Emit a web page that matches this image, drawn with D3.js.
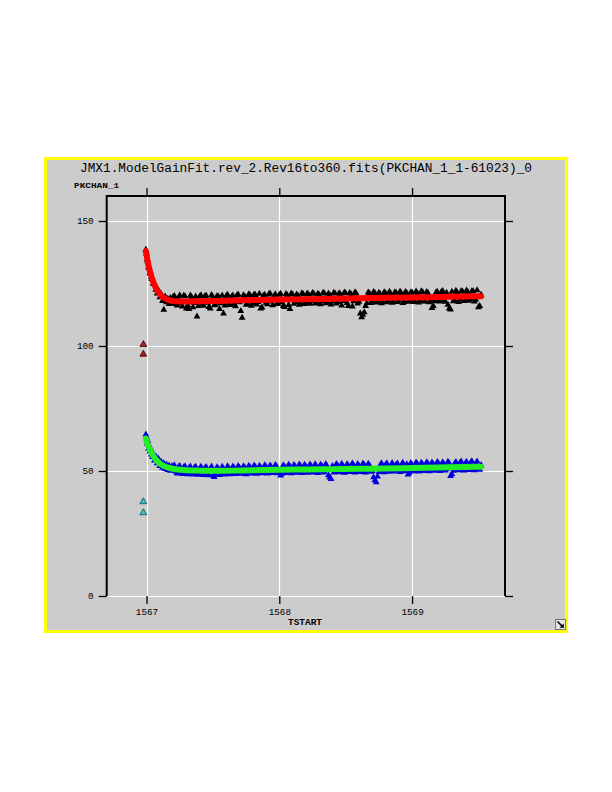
<!DOCTYPE html>
<html>
<head>
<meta charset="utf-8">
<script src="https://cdn.jsdelivr.net/npm/d3@7"></script>
<style>
  html, body { margin: 0; padding: 0; background: #ffffff; }
  svg { display: block; }
</style>
</head>
<body>
<svg id="chart" width="612" height="792"></svg>
<script>
// ---------------- DATA ----------------
const chartTitle = "JMX1.ModelGainFit.rev_2.Rev16to360.fits(PKCHAN_1_1-61023)_0";
const yLabel = "PKCHAN_1";
const xLabel = "TSTART";
const xTicks = [1567, 1568, 1569];
const yTicks = [0, 50, 100, 150];

// TSTART of measurements (set A)
const tstart = [
  1566.995, 1567.000, 1567.005, 1567.010, 1567.015, 1567.020, 1567.025, 1567.030, 1567.035, 1567.040,
  1567.045, 1567.050, 1567.060, 1567.070, 1567.080, 1567.090, 1567.100, 1567.110, 1567.120, 1567.130,
  1567.140, 1567.150, 1567.160, 1567.170, 1567.180, 1567.190,
  1567.20, 1567.22, 1567.24, 1567.26, 1567.28, 1567.30, 1567.32, 1567.34, 1567.36, 1567.38,
  1567.40, 1567.42, 1567.44, 1567.46, 1567.48, 1567.50, 1567.52, 1567.54, 1567.56, 1567.58,
  1567.60, 1567.62, 1567.64, 1567.66, 1567.68, 1567.70, 1567.72, 1567.74, 1567.76, 1567.78,
  1567.80, 1567.82, 1567.84, 1567.86, 1567.88, 1567.90, 1567.92, 1567.94, 1567.96, 1567.98,
  1568.00, 1568.02, 1568.04, 1568.06, 1568.08, 1568.10, 1568.12, 1568.14, 1568.16, 1568.18,
  1568.20, 1568.22, 1568.24, 1568.26, 1568.28, 1568.30, 1568.32, 1568.34, 1568.36, 1568.38,
  1568.40, 1568.42, 1568.44, 1568.46, 1568.48, 1568.50, 1568.52, 1568.54, 1568.56, 1568.58,
  1568.60, 1568.62, 1568.64, 1568.66, 1568.68, 1568.70, 1568.72, 1568.74, 1568.76, 1568.78,
  1568.80, 1568.82, 1568.84, 1568.86, 1568.88, 1568.90, 1568.92, 1568.94, 1568.96, 1568.98,
  1569.00, 1569.02, 1569.04, 1569.06, 1569.08, 1569.10, 1569.12, 1569.14, 1569.16, 1569.18,
  1569.20, 1569.22, 1569.24, 1569.26, 1569.28, 1569.30, 1569.32, 1569.34, 1569.36, 1569.38,
  1569.40, 1569.42, 1569.44, 1569.46, 1569.48, 1569.50, 1569.52
];

// upper channel measurements, set A (black triangles)
const pkchanHigh = [
  138.5, 137.0, 134.5, 133.8, 131.5, 131.2, 129.0, 129.5, 127.5, 126.8,
  126.9, 125.0, 124.8, 122.5, 121.0, 122.3, 119.5, 120.8, 118.0, 114.5,
  119.8, 117.5, 118.9, 116.8, 119.2, 117.0,
  119.6, 116.8, 119.2, 117.0, 120.1, 115.0, 114.8, 119.5, 117.2, 111.8,
  119.8, 116.9, 120.0, 117.3, 115.0, 119.6, 116.5, 119.9, 117.1, 113.0,
  120.0, 117.0, 119.7, 116.8, 120.2, 117.5, 111.3, 119.8, 116.9, 120.3,
  117.2, 120.4, 117.6, 115.0, 120.1, 117.3, 120.6, 117.8, 119.9, 116.9,
  120.5, 117.5, 115.6, 120.3, 114.8, 120.6, 117.6, 120.2, 117.2, 120.7,
  117.6, 120.6, 117.9, 120.9, 117.4, 120.5, 117.9, 121.0, 117.5, 120.4,
  117.8, 121.0, 117.6, 120.7, 118.0, 121.1, 116.0, 120.8, 117.9, 121.0,
  117.7, 111.5, 113.5, 117.2, 121.0, 117.9, 121.2, 118.0, 120.8, 117.6,
  121.1, 118.1, 120.9, 117.8, 121.3, 118.2, 121.0, 117.7, 121.2, 118.3,
  121.4, 118.0, 121.1, 118.4, 121.5, 117.9, 121.2, 118.3, 116.0, 121.4,
  118.2, 121.6, 118.5, 121.3, 115.0, 121.7, 118.4, 121.4, 118.6, 121.8,
  118.5, 121.6, 118.8, 121.9, 118.6, 115.5, 120.5
];

// lower channel measurements, set A (blue triangles)
const pkchanLow = [
  64.6, 63.5, 61.0, 62.0, 59.0, 60.2, 57.8, 58.9, 56.6, 57.9,
  55.6, 57.0, 54.2, 55.8, 53.1, 54.9, 52.0, 53.7, 51.3, 53.1,
  50.8, 52.6, 50.4, 52.2, 50.1, 51.9,
  51.9, 49.8, 51.6, 49.6, 51.5, 49.3, 51.2, 49.2, 51.3, 49.0,
  51.0, 48.9, 51.2, 49.0, 50.9, 48.2, 48.5, 51.0, 49.1, 50.8,
  49.0, 51.1, 49.2, 51.2, 49.1, 51.3, 49.4, 51.4, 49.3, 51.5,
  49.5, 51.6, 49.4, 51.4, 49.6, 51.7, 49.5, 51.6, 49.7, 51.8,
  49.6, 48.9, 51.7, 49.8, 51.9, 49.7, 51.8, 49.6, 52.0, 49.8,
  51.9, 49.9, 52.0, 49.7, 51.8, 50.0, 52.1, 49.8, 51.9, 47.4,
  52.0, 49.9, 52.2, 50.0, 51.9, 49.8, 52.1, 50.1, 52.3, 50.0,
  52.1, 49.9, 52.4, 50.2, 52.2, 50.0, 46.3, 47.8, 52.3, 50.1,
  52.5, 50.3, 52.2, 50.1, 52.6, 50.4, 52.4, 50.2, 52.7, 49.3,
  52.5, 50.4, 52.8, 50.3, 52.6, 50.5, 52.9, 50.4, 52.7, 50.6,
  53.0, 50.5, 52.8, 50.7, 53.1, 48.7, 52.9, 50.6, 53.2, 50.8,
  53.0, 50.7, 53.3, 50.9, 53.1, 50.8, 52.4
];

// TSTART of measurements (set B, interleaved)
const tstartB = [
  1567.21, 1567.23, 1567.25, 1567.27, 1567.29, 1567.31, 1567.33, 1567.35, 1567.37, 1567.39,
  1567.41, 1567.43, 1567.45, 1567.47, 1567.49, 1567.51, 1567.53, 1567.55, 1567.57, 1567.59,
  1567.61, 1567.63, 1567.65, 1567.67, 1567.69, 1567.71, 1567.73, 1567.75, 1567.77, 1567.79,
  1567.81, 1567.83, 1567.85, 1567.87, 1567.89, 1567.91, 1567.93, 1567.95, 1567.97, 1567.99,
  1568.01, 1568.03, 1568.05, 1568.07, 1568.09, 1568.11, 1568.13, 1568.15, 1568.17, 1568.19,
  1568.21, 1568.23, 1568.25, 1568.27, 1568.29, 1568.31, 1568.33, 1568.35, 1568.37, 1568.39,
  1568.41, 1568.43, 1568.45, 1568.47, 1568.49, 1568.51, 1568.53, 1568.55, 1568.57, 1568.59,
  1568.61, 1568.63, 1568.65, 1568.67, 1568.69, 1568.71, 1568.73, 1568.75, 1568.77, 1568.79,
  1568.81, 1568.83, 1568.85, 1568.87, 1568.89, 1568.91, 1568.93, 1568.95, 1568.97, 1568.99,
  1569.01, 1569.03, 1569.05, 1569.07, 1569.09, 1569.11, 1569.13, 1569.15, 1569.17, 1569.19,
  1569.21, 1569.23, 1569.25, 1569.27, 1569.29, 1569.31, 1569.33, 1569.35, 1569.37, 1569.39,
  1569.41, 1569.43, 1569.45, 1569.47, 1569.49, 1569.51
];

const pkchanHighB = [
  120.0, 116.2, 120.3, 115.8, 119.9, 116.4, 120.2, 115.5, 119.8, 116.0,
  120.3, 116.1, 120.1, 115.6, 120.4, 116.3, 119.9, 114.8, 120.2, 116.2,
  120.5, 116.4, 120.2, 115.9, 120.6, 114.0, 120.3, 116.5, 120.7, 116.1,
  120.6, 116.6, 120.9, 115.4, 120.5, 116.7, 121.0, 116.3, 120.7, 116.8,
  120.9, 116.0, 120.8, 116.4, 121.0, 116.9, 120.6, 116.5, 121.1, 116.8,
  121.0, 116.9, 121.2, 117.0, 120.9, 116.7, 121.3, 117.1, 121.0, 116.6,
  121.3, 117.0, 121.1, 116.2, 121.4, 117.2, 121.2, 115.8, 121.5, 117.0,
  113.0, 112.5, 116.0, 121.4, 117.2, 121.6, 117.4, 121.3, 117.1, 121.5,
  117.5, 121.7, 117.3, 121.5, 117.6, 121.8, 117.2, 121.6, 117.7, 121.4,
  117.6, 121.8, 117.4, 121.9, 117.8, 121.6, 117.5, 115.2, 117.9, 121.7,
  117.8, 122.0, 117.7, 116.5, 114.6, 117.9, 122.1, 117.6, 121.9, 118.0,
  122.2, 118.1, 121.9, 117.8, 122.3, 116.0
];

const pkchanLowB = [
  52.3, 49.0, 52.0, 48.8, 51.9, 48.7, 51.8, 48.6, 51.7, 48.5,
  51.7, 48.4, 51.6, 48.3, 51.8, 47.6, 51.5, 48.4, 51.7, 48.6,
  51.9, 48.7, 51.8, 48.8, 52.0, 48.9, 51.9, 48.7, 52.1, 49.0,
  52.2, 48.9, 52.1, 49.1, 52.3, 49.0, 52.2, 49.2, 52.4, 49.1,
  48.2, 52.3, 49.2, 52.5, 49.1, 52.4, 49.3, 52.6, 49.2, 52.5,
  49.3, 52.6, 49.4, 52.7, 49.2, 52.5, 49.4, 52.8, 48.3, 46.8,
  49.4, 52.8, 49.5, 52.9, 49.3, 52.7, 49.6, 53.0, 49.4, 52.8,
  49.6, 53.0, 49.4, 52.9, 49.7, 47.5, 45.5, 49.6, 53.1, 49.5,
  53.1, 49.7, 53.2, 49.8, 53.0, 49.6, 53.3, 49.9, 48.6, 53.2,
  49.9, 53.4, 49.8, 53.3, 50.0, 53.5, 49.9, 53.4, 50.1, 53.6,
  50.0, 53.5, 50.2, 53.7, 48.0, 50.1, 53.6, 50.3, 53.8, 50.2,
  53.7, 50.4, 53.9, 50.3, 53.8, 50.5
];

// model gain fits
const fitTime = [
  1566.995, 1567.000, 1567.010, 1567.020, 1567.030, 1567.040, 1567.050, 1567.060, 1567.070, 1567.080,
  1567.090, 1567.100, 1567.120, 1567.140, 1567.160, 1567.180, 1567.220, 1567.300, 1567.400, 1567.500,
  1567.650, 1567.800, 1568.000, 1568.200, 1568.400, 1568.600, 1568.800, 1569.000, 1569.200, 1569.400, 1569.520
];
const fitHigh = [
  138.0, 136.5, 133.5, 131.0, 129.0, 127.2, 125.7, 124.4, 123.3, 122.3,
  121.5, 120.8, 119.7, 119.0, 118.5, 118.2, 117.9, 117.8, 117.9, 118.0,
  118.2, 118.4, 118.6, 118.7, 118.9, 119.1, 119.3, 119.4, 119.6, 119.8, 119.9
];
const fitLow = [
  63.0, 62.0, 60.5, 59.2, 58.0, 57.0, 56.1, 55.3, 54.6, 54.0,
  53.5, 53.0, 52.3, 51.8, 51.4, 51.1, 50.7, 50.3, 50.15, 50.1,
  50.15, 50.3, 50.5, 50.6, 50.75, 50.9, 51.0, 51.2, 51.4, 51.6, 51.7
];

// early outliers
const outlierTime = [1566.976, 1566.976];
const outlierHigh = [100.6, 96.7];
const outlierLow = [37.7, 33.3];

// ---------------- DRAW ----------------
const svg = d3.select("#chart");

// panel
svg.append("rect")
  .attr("x", 45.5).attr("y", 158.5).attr("width", 521).attr("height", 473)
  .attr("fill", "#cccccc").attr("stroke", "#ffff00").attr("stroke-width", 3);

const plot = { left: 106.7, right: 505, top: 196, bottom: 596 };
const x = d3.scaleLinear().domain([1566.70, 1569.70]).range([plot.left, plot.right]);
const y = d3.scaleLinear().domain([0, 160]).range([plot.bottom, plot.top]);

// grid
const grid = svg.append("g");
grid.selectAll("line.gx").data(xTicks).join("line")
  .attr("x1", d => Math.round(x(d)) + 0.5).attr("x2", d => Math.round(x(d)) + 0.5)
  .attr("y1", plot.top).attr("y2", plot.bottom)
  .attr("stroke", "#ffffff").attr("stroke-width", 1.2);
grid.selectAll("line.gy").data(yTicks).join("line")
  .attr("x1", plot.left).attr("x2", plot.right)
  .attr("y1", d => Math.round(y(d)) + 0.5).attr("y2", d => Math.round(y(d)) + 0.5)
  .attr("stroke", "#ffffff").attr("stroke-width", 1.2);

// axes (ticks + labels)
const tickFont = "'Liberation Mono', 'DejaVu Sans Mono', monospace";
function styleAxis(g) {
  g.select(".domain").remove();
  g.selectAll(".tick line").attr("stroke", "#000").attr("stroke-width", 1.3);
  g.selectAll(".tick text").attr("fill", "#000").style("font-family", tickFont).style("font-size", "9.3px");
}
svg.append("g").attr("transform", `translate(${plot.left},0)`)
  .call(d3.axisLeft(y).tickValues(yTicks).tickSize(8).tickPadding(5).tickFormat(d3.format("d")))
  .call(styleAxis);
svg.append("g").attr("transform", `translate(${plot.right},0)`)
  .call(d3.axisRight(y).tickValues(yTicks).tickSize(8).tickFormat(""))
  .call(styleAxis);
svg.append("g").attr("transform", `translate(0,${plot.bottom})`)
  .call(d3.axisBottom(x).tickValues(xTicks).tickSize(8).tickPadding(4).tickFormat(d3.format("d")))
  .call(styleAxis);
svg.append("g").attr("transform", `translate(0,${plot.top})`)
  .call(d3.axisTop(x).tickValues(xTicks).tickSize(8).tickFormat(""))
  .call(styleAxis);

// frame (left, top, right)
svg.append("path")
  .attr("d", `M${plot.left},${plot.bottom}V${plot.top}H${plot.right}V${plot.bottom}`)
  .attr("fill", "none").attr("stroke", "#000").attr("stroke-width", 2);

// data
const tri = d3.symbol().type(d3.symbolTriangle).size(20);
const high = tstart.map((t, i) => ({ t, v: pkchanHigh[i] }))
  .concat(tstartB.map((t, i) => ({ t, v: pkchanHighB[i] })));
const low = tstart.map((t, i) => ({ t, v: pkchanLow[i] }))
  .concat(tstartB.map((t, i) => ({ t, v: pkchanLowB[i] })));
const fitH = fitTime.map((t, i) => ({ t, v: fitHigh[i] }));
const fitL = fitTime.map((t, i) => ({ t, v: fitLow[i] }));

const line = d3.line().x(d => x(d.t)).y(d => y(d.v)).curve(d3.curveMonotoneX);

svg.append("g").selectAll("path").data(high).join("path")
  .attr("d", tri).attr("transform", d => `translate(${x(d.t)},${y(d.v)})`)
  .attr("fill", "#000000");
svg.append("path").datum(fitH).attr("d", line)
  .attr("fill", "none").attr("stroke", "#ff0000").attr("stroke-width", 6)
  .attr("stroke-linecap", "round");

svg.append("g").selectAll("path").data(low).join("path")
  .attr("d", tri).attr("transform", d => `translate(${x(d.t)},${y(d.v)})`)
  .attr("fill", "#0000dd");
svg.append("path").datum(fitL).attr("d", line)
  .attr("fill", "none").attr("stroke", "#22ee22").attr("stroke-width", 6)
  .attr("stroke-linecap", "round");

// outliers
svg.append("g").selectAll("path").data(outlierTime.map((t, i) => ({ t, v: outlierHigh[i] }))).join("path")
  .attr("d", tri).attr("transform", d => `translate(${x(d.t)},${y(d.v)})`)
  .attr("fill", "#b02020").attr("stroke", "#300000").attr("stroke-width", 0.8);
svg.append("g").selectAll("path").data(outlierTime.map((t, i) => ({ t, v: outlierLow[i] }))).join("path")
  .attr("d", tri).attr("transform", d => `translate(${x(d.t)},${y(d.v)})`)
  .attr("fill", "#33cccc").attr("stroke", "#114444").attr("stroke-width", 0.8);

// texts
svg.append("text").text(chartTitle)
  .attr("x", 306).attr("y", 171.5).attr("text-anchor", "middle")
  .attr("textLength", 452).attr("lengthAdjust", "spacingAndGlyphs")
  .style("font-family", "'Liberation Mono', 'DejaVu Sans Mono', monospace").style("font-size", "12.5px")
  .attr("fill", "#000");
svg.append("text").text(yLabel)
  .attr("x", 74).attr("y", 188)
  .attr("textLength", 45).attr("lengthAdjust", "spacingAndGlyphs")
  .style("font-family", "'Liberation Mono', monospace").style("font-size", "8px").style("font-weight", "bold")
  .attr("fill", "#000");
svg.append("text").text(xLabel)
  .attr("x", 305).attr("y", 625).attr("text-anchor", "middle")
  .attr("textLength", 34).attr("lengthAdjust", "spacingAndGlyphs")
  .style("font-family", "'Liberation Mono', monospace").style("font-size", "8.5px").style("font-weight", "bold")
  .attr("fill", "#000");

// resize icon
const icon = svg.append("g").attr("transform", "translate(555,619)");
icon.append("rect").attr("x", 0.5).attr("y", 0.5).attr("width", 10).attr("height", 10)
  .attr("fill", "#e4e4e4").attr("stroke", "#777").attr("stroke-width", 1);
icon.append("path").attr("d", "M2.5,2.5L8,8").attr("stroke", "#000").attr("stroke-width", 1.6);
icon.append("path").attr("d", "M8.8,8.8L8.8,4.5L4.5,8.8Z").attr("fill", "#000");
</script>
</body>
</html>
